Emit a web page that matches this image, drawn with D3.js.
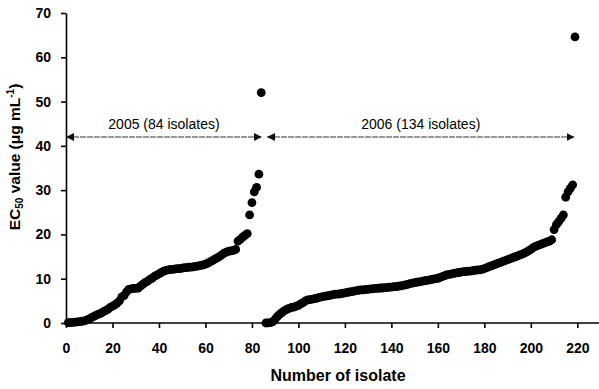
<!DOCTYPE html>
<html>
<head>
<meta charset="utf-8">
<script src="https://cdn.jsdelivr.net/npm/d3@7"></script>
<style>
  body { margin: 0; background: #fff; }
  svg text { font-family: "Liberation Sans", Arial, sans-serif; }
  .axis path, .axis line { stroke: #000; stroke-width: 1.6; }
  .axis text { font-size: 14px; font-weight: bold; fill: #000; }
</style>
</head>
<body>
<svg id="chart" width="599" height="389"></svg>
<script>
// EC50 values, sorted
var ec2005 = [0.1, 0.1, 0.15, 0.2, 0.25, 0.3, 0.4, 0.5,
  0.7, 0.9, 1.2, 1.5, 1.8, 2.0, 2.2, 2.5,
  2.8, 3.1, 3.5, 3.8, 4.1, 4.5, 5.0, 5.9,
  6.2, 7.0, 7.6, 7.7, 7.8, 7.8, 7.9,
  8.3, 8.7, 9.1, 9.4, 9.8, 10.1, 10.5, 10.8, 11.1, 11.4,
  11.7, 11.9, 12.0, 12.1, 12.1, 12.2, 12.3, 12.3, 12.4, 12.5, 12.5, 12.6, 12.6, 12.7,
  12.8, 12.9, 13.0, 13.1, 13.3, 13.5, 13.8, 14.1, 14.4, 14.7,
  15.0, 15.4, 15.8, 16.0, 16.2, 16.3, 16.4, 16.6, 18.5,
  18.9, 19.4, 19.8, 20.2, 24.4, 27.2, 29.6, 30.6, 33.6, 52.0];

var ec2006 = [0.0, 0.05, 0.1, 0.3,
  0.9, 1.5, 2.0, 2.4, 2.8,
  3.1, 3.3, 3.5, 3.6, 3.8,
  4.0, 4.3, 4.6, 5.0, 5.2,
  5.3, 5.4, 5.5, 5.6, 5.8,
  5.9, 6.0, 6.1, 6.2, 6.3, 6.4, 6.5, 6.5, 6.6, 6.7,
  6.8, 6.9, 7.0, 7.1, 7.2, 7.3, 7.4, 7.5, 7.5, 7.6,
  7.6, 7.7, 7.7, 7.8, 7.8, 7.9, 7.9, 8.0, 8.0, 8.1,
  8.1, 8.2, 8.2, 8.3, 8.4, 8.5, 8.6, 8.7, 8.9, 9.0,
  9.1, 9.2, 9.3, 9.4, 9.5, 9.6, 9.7, 9.8, 9.9, 10.0,
  10.1, 10.3, 10.5, 10.7, 10.9, 11.0, 11.1, 11.2, 11.3, 11.4,
  11.5, 11.6, 11.6, 11.7, 11.7, 11.8, 11.9, 12.0, 12.0, 12.1,
  12.3, 12.5, 12.7, 12.9, 13.1, 13.3, 13.5, 13.7, 13.9, 14.1,
  14.3, 14.5, 14.7, 14.9, 15.1, 15.3, 15.5, 15.7, 16.0, 16.3,
  16.6, 17.0, 17.3, 17.5, 17.7, 17.9, 18.1, 18.3, 18.5, 18.8,
  21.1, 22.2, 22.9, 23.6, 24.4, 28.4, 29.6, 30.4, 31.2, 64.6];

var start2005 = 1;
var start2006 = 86;

var spanLabels = ["2005 (84 isolates)", "2006 (134 isolates)"];
var spanFrom = [0, 86.5];
var spanTo = [84.3, 218.8];
var spanLevel = 42;

var xTicks = [0, 20, 40, 60, 80, 100, 120, 140, 160, 180, 200, 220];
var yTicks = [0, 10, 20, 30, 40, 50, 60, 70];

var svg = d3.select("#chart");

var x = d3.scaleLinear().domain([0, 240]).range([66, 623.8]);
var y = d3.scaleLinear().domain([0, 70]).range([323, 13]);

// axes
svg.append("g")
  .attr("class", "axis")
  .attr("transform", "translate(0," + y(0) + ")")
  .call(d3.axisBottom(x).tickValues(xTicks).tickSize(5).tickSizeOuter(0).tickPadding(15))
  .call(function(g) { g.select(".domain").attr("d", "M" + x(0) + ",0H599"); });

svg.append("g")
  .attr("class", "axis")
  .attr("transform", "translate(" + x(0) + ",0)")
  .call(d3.axisLeft(y).tickValues(yTicks).tickSize(5).tickSizeOuter(0).tickPadding(10));

// points
var pts = ec2005.map(function(v, i) { return {n: start2005 + i, v: v}; })
  .concat(ec2006.map(function(v, i) { return {n: start2006 + i, v: v}; }));

svg.append("g").selectAll("circle")
  .data(pts)
  .enter().append("circle")
  .attr("cx", function(d) { return x(d.n); })
  .attr("cy", function(d) { return y(d.v); })
  .attr("r", 4.4)
  .attr("fill", "#000");

// double arrows for the two years
var defs = svg.append("defs");
defs.append("marker")
  .attr("id", "head")
  .attr("viewBox", "0 0 10 10")
  .attr("refX", 10).attr("refY", 5)
  .attr("markerWidth", 8).attr("markerHeight", 8)
  .attr("markerUnits", "userSpaceOnUse")
  .attr("orient", "auto-start-reverse")
  .append("path")
  .attr("d", "M0,0L10,5L0,10z")
  .attr("fill", "#111");

spanLabels.forEach(function(lab, i) {
  svg.append("line")
    .attr("x1", x(spanFrom[i])).attr("x2", x(spanTo[i]))
    .attr("y1", y(spanLevel)).attr("y2", y(spanLevel))
    .attr("stroke", "#333")
    .attr("stroke-width", 1.2)
    .attr("stroke-dasharray", "6,1")
    .attr("marker-start", "url(#head)")
    .attr("marker-end", "url(#head)");

  svg.append("text")
    .attr("x", (x(spanFrom[i]) + x(spanTo[i])) / 2)
    .attr("y", y(spanLevel) - 8)
    .attr("text-anchor", "middle")
    .style("font-size", "14px")
    .text(lab);
});

// axis titles
svg.append("text")
  .attr("x", 338).attr("y", 381)
  .attr("text-anchor", "middle")
  .style("font-size", "16px")
  .style("font-weight", "bold")
  .text("Number of isolate");

var yt = svg.append("text")
  .attr("transform", "translate(20,157) rotate(-90)")
  .attr("text-anchor", "middle")
  .style("font-size", "15.5px")
  .style("font-weight", "bold");
yt.append("tspan").text("EC");
yt.append("tspan").attr("dy", 3).style("font-size", "10px").text("50");
yt.append("tspan").attr("dy", -3).text(" value (\u03bcg mL");
yt.append("tspan").attr("dy", -6).style("font-size", "10px").text("-1");
yt.append("tspan").attr("dy", 6).text(")");
</script>
</body>
</html>
